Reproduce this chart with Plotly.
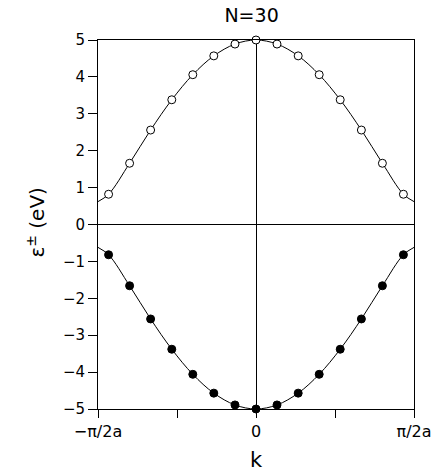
import plotly.graph_objects as go

# k in units of pi/2a (sampled points, N=30)
k_points = [-0.933, -0.800, -0.667, -0.533, -0.400, -0.267, -0.133, 0.0,
            0.133, 0.267, 0.400, 0.533, 0.667, 0.800, 0.933]
eps_plus = [0.82, 1.66, 2.56, 3.38, 4.06, 4.57, 4.89, 5.00,
            4.89, 4.57, 4.06, 3.38, 2.56, 1.66, 0.82]
eps_minus = [-0.82, -1.66, -2.56, -3.38, -4.06, -4.57, -4.89, -5.00,
             -4.89, -4.57, -4.06, -3.38, -2.56, -1.66, -0.82]
# band edge values at k = -pi/2a and +pi/2a
k_edges = [-1.0, 1.0]
eps_plus_edges = [0.62, 0.62]
eps_minus_edges = [-0.62, -0.62]

x_tickvals = [-1.0, 0.0, 1.0]
x_ticktext = ["\u2212\u03c0/2a", "0", "\u03c0/2a"]
x_minor_tickvals = [-0.5, 0.5]
y_tickvals = [-5, -4, -3, -2, -1, 0, 1, 2, 3, 4, 5]

FONT = "DejaVu Sans"

curve_k = [k_edges[0]] + k_points + [k_edges[1]]
curve_plus = [eps_plus_edges[0]] + eps_plus + [eps_plus_edges[1]]
curve_minus = [eps_minus_edges[0]] + eps_minus + [eps_minus_edges[1]]

fig = go.Figure()
fig.add_trace(go.Scatter(x=curve_k, y=curve_plus, mode="lines",
                         line=dict(color="black", width=1, shape="spline", smoothing=1.0),
                         hoverinfo="skip", showlegend=False))
fig.add_trace(go.Scatter(x=curve_k, y=curve_minus, mode="lines",
                         line=dict(color="black", width=1, shape="spline", smoothing=1.0),
                         hoverinfo="skip", showlegend=False))
fig.add_trace(go.Scatter(x=k_points, y=eps_plus, mode="markers",
                         marker=dict(symbol="circle", size=8, color="white",
                                     line=dict(color="black", width=1)),
                         cliponaxis=False, showlegend=False))
fig.add_trace(go.Scatter(x=k_points, y=eps_minus, mode="markers",
                         marker=dict(symbol="circle", size=8, color="black",
                                     line=dict(color="black", width=1)),
                         cliponaxis=False, showlegend=False))

fig.update_layout(
    width=444, height=473,
    margin=dict(l=98, r=27, t=40, b=64),
    paper_bgcolor="white", plot_bgcolor="white",
    font=dict(family=FONT, color="black"),
    title=dict(text="N=30", x=0.486, xref="paper", xanchor="center",
               y=1 - 15 / 473, yref="container", yanchor="middle",
               font=dict(size=19, family=FONT, color="black")),
    xaxis=dict(range=[-1, 1], tickmode="array", tickvals=x_tickvals, ticktext=x_ticktext,
               ticks="outside", ticklen=8, tickwidth=1, tickcolor="black",
               minor=dict(tickmode="array", tickvals=x_minor_tickvals, ticks="outside",
                          ticklen=8, tickwidth=1, tickcolor="black", showgrid=False),
               showline=True, linecolor="black", linewidth=1, mirror=True,
               showgrid=False, zeroline=True, zerolinecolor="black", zerolinewidth=1,
               tickfont=dict(size=16, family=FONT, color="black")),
    yaxis=dict(range=[-5, 5], tickmode="array", tickvals=y_tickvals,
               ticks="outside", ticklen=9, tickwidth=1, tickcolor="black",
               showline=True, linecolor="black", linewidth=1, mirror=True,
               showgrid=False, zeroline=True, zerolinecolor="black", zerolinewidth=1,
               tickfont=dict(size=15, family=FONT, color="black")),
    annotations=[
        dict(text="\u03b5<sup>\u00b1</sup> (eV)", xref="paper", yref="paper",
             x=(35 - 98) / 319, y=(409 - 222) / 369, xanchor="center", yanchor="middle",
             textangle=-90, showarrow=False, font=dict(size=20, family=FONT, color="black")),
        dict(text="k", xref="paper", yref="paper",
             x=(258 - 98) / 319, y=-(460 - 409) / 369, xanchor="center", yanchor="middle",
             showarrow=False, font=dict(size=21, family=FONT, color="black")),
    ],
)

fig.write_html("out.html")
